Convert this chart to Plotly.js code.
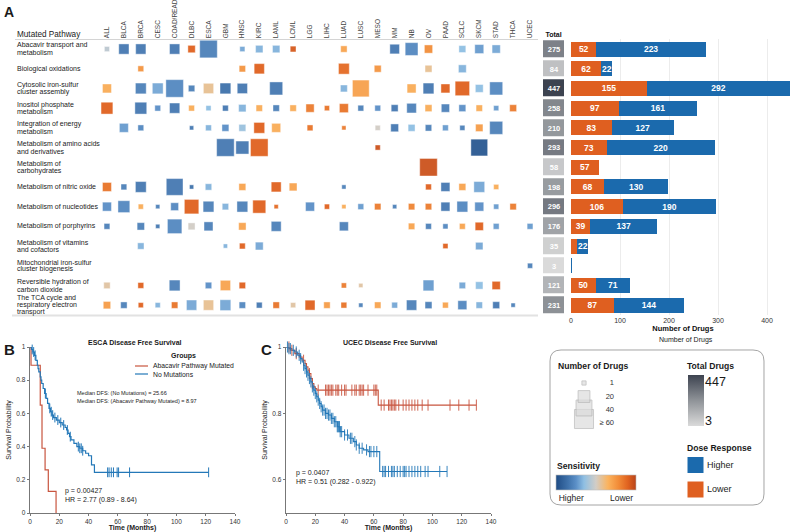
<!DOCTYPE html>
<html><head><meta charset="utf-8">
<script src="https://cdn.plot.ly/plotly-3.0.1.min.js"></script>
<style>html,body{margin:0;padding:0;background:#fff}#chart{width:797px;height:532px}</style>
</head><body><div id="chart"></div>
<script>
const W = 797, H = 532;
const FONT = '"Liberation Sans", Arial, Helvetica, sans-serif';

// ---------------- DATA ----------------
const cancers = ['ALL','BLCA','BRCA','CESC','COAD/READ','DLBC','ESCA','GBM','HNSC','KIRC','LAML','LCML','LGG','LIHC','LUAD','LUSC','MESO','MM','NB','OV','PAAD','SCLC','SKCM','STAD','THCA','UCEC'];
const pathwayLines = [
  ['Abacavir transport and','metabolism'],
  ['Biological oxidations'],
  ['Cytosolic iron-sulfur','cluster assembly'],
  ['Inositol phosphate','metabolism'],
  ['Integration of energy','metabolism'],
  ['Metabolism of amino acids','and derivatives'],
  ['Metabolism of','carbohydrates'],
  ['Metabolism of nitric oxide'],
  ['Metabolism of nucleotides'],
  ['Metabolism of porphyrins'],
  ['Metabolism of vitamins','and cofactors'],
  ['Mitochondrial iron-sulfur','cluster biogenesis'],
  ['Reversible hydration of','carbon dioxide'],
  ['The TCA cycle and','respiratory electron','transport']
];
const pathways = pathwayLines.map(l => l.join(' '));

// number of drugs per cell (0 = none), per pathway row, in cancer order
const cntAbacavir   = [2,14,14,0,14,6,50,0,2,6,6,3,0,0,4,0,0,12,24,8,0,5,10,8,0,0];
const cntBiological = [0,0,3,0,0,0,0,0,4,14,0,0,0,0,16,0,5,0,0,5,0,7,0,0,0,0];
const cntCytosolic  = [10,0,16,16,50,4,14,16,14,0,25,0,0,0,5,45,0,0,10,16,10,32,7,25,0,0];
const cntInositol   = [20,0,20,3,14,3,2,3,6,4,4,4,8,2,10,3,3,5,12,5,8,5,4,2,5,0];
const cntEnergy     = [0,10,3,0,0,1,3,5,5,16,10,0,3,0,1,0,2,7,5,4,3,2,6,25,0,0];
const cntAmino      = [0,0,0,0,0,0,0,50,25,50,0,0,0,0,0,0,2,0,0,0,0,0,45,0,0,0];
const cntCarbo      = [0,0,0,0,0,0,0,0,0,0,0,0,0,0,0,0,0,0,0,50,0,0,0,0,0,0];
const cntNitric     = [10,3,16,0,45,1,4,0,5,0,13,7,0,0,1,0,0,0,0,3,10,5,16,2,0,0];
const cntNucleo     = [10,20,2,1,7,32,16,4,16,25,1,0,10,2,1,3,4,1,4,4,10,16,10,2,4,0];
const cntPorph      = [3,0,6,1,32,5,10,0,6,0,13,0,0,0,10,0,0,0,4,3,2,3,8,3,0,3];
const cntVitamins   = [0,0,4,0,0,0,0,1,3,7,0,0,0,0,0,0,0,0,0,0,2,0,6,0,0,0];
const cntMito       = [0,0,0,0,0,0,0,0,0,0,0,0,0,0,0,0,0,0,0,0,0,0,0,0,0,2];
const cntReversible = [4,0,3,0,16,0,4,14,4,0,0,0,0,0,2,1,0,0,0,16,0,4,6,8,0,0];
const cntTCA        = [6,4,2,2,4,14,14,16,4,3,4,2,13,4,3,1,4,3,14,5,3,10,4,5,1,0];

// sensitivity per cell (-1 = higher sensitivity, +1 = lower)
const senAbacavir   = [-0.1,-0.65,-0.65,0,-0.65,0.8,-0.6,0,-0.4,-0.35,-0.35,0.85,0,0,0.4,0,0,-0.65,-0.55,0.55,0,-0.3,-0.45,-0.4,0,0];
const senBiological = [0,0,0.5,0,0,0,0,0,0.5,0.8,0,0,0,0,0.75,0,0.5,0,0,0.15,0,-0.35,0,0,0,0];
const senCytosolic  = [0.35,0,-0.6,-0.4,-0.55,-0.6,0.15,-0.7,-0.65,0,-0.65,0,0,0,-0.35,0.42,0,0,0.35,-0.65,0.8,0.8,-0.3,-0.55,0,0];
const senInositol   = [0.8,0,-0.65,-0.5,-0.65,0.35,-0.3,-0.65,-0.35,0.35,-0.6,0.35,0.65,0.7,0.7,-0.6,-0.5,-0.65,-0.6,0.35,-0.6,-0.5,0.35,-0.45,0.65,0];
const senEnergy     = [0,-0.45,-0.55,0,0,-0.65,-0.35,-0.5,-0.25,0.8,0.35,0,0.7,0,0.65,0,0,-0.65,-0.3,-0.6,-0.45,-0.6,0.45,-0.6,0,0];
const senAmino      = [0,0,0,0,0,0,0,-0.65,-0.65,0.8,0,0,0,0,0,0,0.9,0,0,0,0,0,-0.9,0,0,0];
const senCarbo      = [0,0,0,0,0,0,0,0,0,0,0,0,0,0,0,0,0,0,0,0.9,0,0,0,0,0,0];
const senNitric     = [0.7,-0.6,-0.65,0,-0.65,-0.7,-0.35,0,0.4,0,0.8,0.4,0,0,-0.6,0,0,0,0,0.8,-0.65,0.4,-0.4,0.35,0,0];
const senNucleo     = [-0.5,-0.55,0.35,-0.6,-0.55,0.8,-0.6,-0.35,-0.6,0.8,0.75,0,-0.5,0.8,0.35,-0.45,0.65,-0.6,0.6,0.65,-0.65,-0.55,-0.5,-0.45,0.65,0];
const senPorph      = [-0.6,0,-0.6,-0.65,-0.55,0,-0.6,0,0.4,0,-0.6,0,0,0,-0.6,0,0,0,0.4,-0.6,-0.55,0.4,0.8,-0.45,0,-0.45];
const senVitamins   = [0,0,-0.35,0,0,0,0,-0.35,0.8,-0.4,0,0,0,0,0,0,0,0,0,0,0.8,0,-0.4,0,0,0];
const senMito       = [0,0,0,0,0,0,0,0,0,0,0,0,0,0,0,0,0,0,0,0,0,0,0,0,0,-0.6];
const senReversible = [0.1,0,0.8,0,-0.6,0,-0.5,0.4,0.8,0,0,0,0,0,0.65,0.1,0,0,0,-0.45,0,-0.4,-0.3,0.8,0,0];
const senTCA        = [0.45,-0.6,0.8,-0.35,0.7,-0.4,0.15,-0.4,-0.55,-0.65,0.7,0.1,0.8,0.45,0.7,-0.6,0.4,-0.4,-0.6,-0.6,0.4,-0.55,-0.35,-0.65,-0.6,0];

const totals      = [275,84,447,258,210,293,58,198,296,176,35,3,121,231];
const lowerDose   = [52,62,155,97,83,73,57,68,106,39,13,0,50,87];
const higherDose  = [223,22,292,161,127,220,1,130,190,137,22,3,71,144];

// Panel B: ESCA disease free survival (Kaplan-Meier steps)
const escaNoTime  = [0,1,2,3,4,5,5.5,6,7,7.5,8,9,10,11,12,13,14,15,16,18,20,22,24,25,26,27,28,30,32,34,36,38,40,42,44,122];
const escaNoSurv  = [1,0.985,0.97,0.95,0.92,0.89,0.87,0.85,0.82,0.8,0.78,0.75,0.72,0.69,0.66,0.63,0.61,0.59,0.575,0.56,0.545,0.53,0.515,0.5,0.48,0.46,0.44,0.42,0.4,0.39,0.375,0.36,0.345,0.29,0.245,0.245];
const escaNoCensor = [1.5,2.5,3.5,10.5,13.5,14.5,15.5,17,19,21,23,25.5,27.5,33,34,35,36,53,54,55.5,57,59.5,60.5,68,122];
const escaMutTime = [0,0.7,7,8.2,10.3,12.5,17.8];
const escaMutSurv = [1,0.89,0.65,0.39,0.26,0.13,0];
const escaStats = {medNo:'25.66', medMut:'8.97', p:'0.00427', hr:'2.77 (0.89 - 8.64)'};
const groupNames = ['Abacavir Pathway Mutated', 'No Mutations'];

// Panel C: UCEC disease free survival
const ucecNoTime = [0,2,4,6,8,10,11,12,13,14,15,16,17,18,19,20,21,22,23,24,25,27,29,31,33,35,37,40,43,46,48,50,53,56,64,110];
const ucecNoSurv = [1,0.995,0.99,0.985,0.975,0.965,0.955,0.945,0.935,0.925,0.915,0.905,0.895,0.88,0.87,0.86,0.85,0.84,0.83,0.82,0.81,0.8,0.795,0.785,0.775,0.76,0.745,0.735,0.725,0.715,0.705,0.695,0.69,0.685,0.625,0.625];
const ucecNoCensor = [1,2,3,5,7,9,10,12,13,14,15,16,17,18,19,20,21,22,23,24,25,26,27,28,29,30,31,32,33,34,35,35.5,36,36.5,37,38,40,42,44,45,47,48,50,52,55,57,58,60,62,66,67,68,70,72,73,74,76,78,80,81,82,84,86,88,90,92,95,97,105,110];
const ucecMutTime = [0,3,6,9,11,13,14,15,16,17,18,19,20,21,63,130];
const ucecMutSurv = [1,0.99,0.98,0.97,0.96,0.95,0.94,0.93,0.92,0.905,0.89,0.88,0.875,0.87,0.825,0.825];
const ucecMutCensor = [2,4,7,12,16,18,22,27,28,29,30,31,32,34,35,36,38,40,41,45,47,48,50,51,52,53,56,60,61,62,65,67,70,71,72,73,74,75,77,80,82,84,86,88,90,93,97,112,118,125,130];
const ucecStats = {p:'0.0407', hr:'0.51 (0.282 - 0.922)'};

// legend values
const sizeLegendVals = [1,20,40,60];
const sizeLegendText = ['1','20','40','\u2265 60'];

// ---------------- HELPERS ----------------
const px2x = p => p / W;
const px2y = p => 1 - p / H;
const sizeOf = n => 2 + 2.2 * Math.sqrt(Math.min(n, 60));
function stepAt(ts, ss, t) { let v = ss[0]; for (let i = 0; i < ts.length; i++) { if (ts[i] <= t) v = ss[i]; else break; } return v; }

const sensScale = [[0,'#1f4c85'],[0.15,'#3f72ab'],[0.25,'#5b8fc7'],[0.35,'#8fbfe3'],[0.5,'#d2cdc6'],[0.65,'#fbb35e'],[0.78,'#f28c38'],[0.9,'#e0621f'],[1,'#b8441a']];
const grayScale = [[0,'#dadada'],[0.5,'#8f9398'],[1,'#3d4350']];
const ORANGE = '#df5f20', BLUE = '#1b6aad', KM_RED = '#c8553f', KM_BLUE = '#2478b8';

const cntRows = [cntAbacavir,cntBiological,cntCytosolic,cntInositol,cntEnergy,cntAmino,cntCarbo,cntNitric,cntNucleo,cntPorph,cntVitamins,cntMito,cntReversible,cntTCA];
const senRows = [senAbacavir,senBiological,senCytosolic,senInositol,senEnergy,senAmino,senCarbo,senNitric,senNucleo,senPorph,senVitamins,senMito,senReversible,senTCA];

const dx = [], dy = [], ds = [], dc = [];
cntRows.forEach((row, r) => row.forEach((n, c) => {
  if (n > 0) { dx.push(cancers[c]); dy.push(pathways[r]); ds.push(sizeOf(n)); dc.push(senRows[r][c]); }
}));

const traces = [];
// dot matrix
traces.push({
  type:'scatter', mode:'markers', x:dx, y:dy, xaxis:'x', yaxis:'y', showlegend:false, hoverinfo:'skip',
  marker:{symbol:'square', size:ds, color:dc, cmin:-1, cmax:1, colorscale:sensScale, opacity:0.95,
    line:{width:0.6, color:'rgba(255,255,255,0.7)'},
    showscale:true,
    colorbar:{orientation:'h', x:px2x(556), xanchor:'left', y:px2y(475), yanchor:'top', len:80, lenmode:'pixels',
      thickness:15, thicknessmode:'pixels', xpad:0, ypad:0, outlinewidth:0.6, outlinecolor:'#bbb',
      tickvals:[-0.62,0.64], ticktext:['Higher','Lower'], ticks:'', tickfont:{family:FONT, size:8.5, color:'#222'}}}
});
// totals column
traces.push({
  type:'heatmap', x:['Total'], y:pathways, z:totals.map(v => [v]), xaxis:'x2', yaxis:'y',
  zmin:Math.min(...totals), zmax:Math.max(...totals), colorscale:grayScale, ygap:3, xgap:0,
  texttemplate:'<b>%{z}</b>', textfont:{family:FONT, size:7.5, color:'#fff'}, hoverinfo:'skip',
  colorbar:{x:px2x(687.5), xanchor:'left', y:px2y(400.5), yanchor:'middle', len:51, lenmode:'pixels',
    thickness:15.5, thicknessmode:'pixels', xpad:0, ypad:0, outlinewidth:0, showticklabels:false, ticks:''}
});
// stacked bars
const barText = v => v >= 20 ? String(v) : '';
const barCommon = {type:'bar', orientation:'h', y:pathways, xaxis:'x3', yaxis:'y', showlegend:false,
  texttemplate:'<b>%{text}</b>', textposition:'inside', textangle:0, insidetextanchor:'middle', constraintext:'none',
  textfont:{family:FONT, size:8.5, color:'#fff'}, hoverinfo:'skip', cliponaxis:false};
traces.push(Object.assign({}, barCommon, {x:lowerDose, name:'Lower', marker:{color:ORANGE}, text:lowerDose.map(barText)}));
traces.push(Object.assign({}, barCommon, {x:higherDose, name:'Higher', marker:{color:BLUE}, text:higherDose.map(barText)}));

// KM panel B
traces.push({type:'scatter', mode:'lines', x:escaMutTime, y:escaMutSurv, xaxis:'x4', yaxis:'y4', name:groupNames[0], showlegend:false,
  line:{shape:'hv', color:KM_RED, width:1.2}, cliponaxis:false, hoverinfo:'skip'});
traces.push({type:'scatter', mode:'lines', x:escaNoTime, y:escaNoSurv, xaxis:'x4', yaxis:'y4', name:groupNames[1], showlegend:false,
  line:{shape:'hv', color:KM_BLUE, width:1.2}, cliponaxis:false, hoverinfo:'skip'});
traces.push({type:'scatter', mode:'markers', x:escaNoCensor, y:escaNoCensor.map(t => stepAt(escaNoTime, escaNoSurv, t)),
  xaxis:'x4', yaxis:'y4', showlegend:false, cliponaxis:false, hoverinfo:'skip',
  marker:{symbol:'line-ns-open', size:7, color:KM_BLUE, line:{width:1, color:KM_BLUE}}});
// KM panel C
traces.push({type:'scatter', mode:'lines', x:ucecMutTime, y:ucecMutSurv, xaxis:'x5', yaxis:'y5', showlegend:false,
  line:{shape:'hv', color:KM_RED, width:1.1}, cliponaxis:false, hoverinfo:'skip'});
traces.push({type:'scatter', mode:'lines', x:ucecNoTime, y:ucecNoSurv, xaxis:'x5', yaxis:'y5', showlegend:false,
  line:{shape:'hv', color:KM_BLUE, width:1.1}, cliponaxis:false, hoverinfo:'skip'});
traces.push({type:'scatter', mode:'markers', x:ucecMutCensor, y:ucecMutCensor.map(t => stepAt(ucecMutTime, ucecMutSurv, t)),
  xaxis:'x5', yaxis:'y5', showlegend:false, cliponaxis:false, hoverinfo:'skip',
  marker:{symbol:'line-ns-open', size:8, color:KM_RED, line:{width:0.9, color:KM_RED}}});
traces.push({type:'scatter', mode:'markers', x:ucecNoCensor, y:ucecNoCensor.map(t => stepAt(ucecNoTime, ucecNoSurv, t)),
  xaxis:'x5', yaxis:'y5', showlegend:false, cliponaxis:false, hoverinfo:'skip',
  marker:{symbol:'line-ns-open', size:8, color:KM_BLUE, line:{width:0.9, color:KM_BLUE}}});
// size legend (drawn largest first so smaller ones sit on top)
const sizeLegendY = [383, 396.5, 408, 419];
const order = [3,2,1,0];
traces.push({type:'scatter', mode:'markers', xaxis:'x6', yaxis:'y6', showlegend:false, hoverinfo:'skip', cliponaxis:false,
  x:order.map(() => 584), y:order.map(i => sizeLegendY[i]),
  marker:{symbol:'square', size:order.map(i => sizeOf(sizeLegendVals[i])), color:'#dcdcdc', line:{width:0.8, color:'#a8a8a8'}}});
traces.push({type:'scatter', mode:'text', xaxis:'x6', yaxis:'y6', showlegend:false, hoverinfo:'skip', cliponaxis:false,
  x:sizeLegendVals.map(() => 614), y:[383,397,410,423], text:sizeLegendText, textposition:'middle left',
  textfont:{family:FONT, size:7.5, color:'#333'}});
// dose response legend
traces.push({type:'scatter', mode:'markers', xaxis:'x6', yaxis:'y6', showlegend:false, hoverinfo:'skip', cliponaxis:false,
  x:[695.5,695.5], y:[465,489.5], marker:{symbol:'square', size:16, color:[BLUE, ORANGE]}});
traces.push({type:'scatter', mode:'text', xaxis:'x6', yaxis:'y6', showlegend:false, hoverinfo:'skip', cliponaxis:false,
  x:[707,707], y:[466,490], text:['Higher','Lower'], textposition:'middle right',
  textfont:{family:FONT, size:9, color:'#222'}});

// ---------------- ANNOTATIONS ----------------
const annotations = [];
function ann(text, xp, yp, size, opts) {
  annotations.push(Object.assign({text:text, x:px2x(xp), y:px2y(yp), xref:'paper', yref:'paper', showarrow:false,
    xanchor:'left', yanchor:'middle', font:{family:FONT, size:size, color:'#1a1a1a'}}, opts || {}));
}
pathwayLines.forEach((lines, r) => lines.forEach((ln, k) => {
  annotations.push({text:ln, xref:'paper', x:px2x(15), yref:'y', y:r, yshift:((lines.length - 1) / 2 - k) * 7.2,
    xanchor:'left', yanchor:'middle', showarrow:false, font:{family:FONT, size:7, color:'#1a1a1a'}});
}));
ann('<b>A</b>', 2, 12, 14);
ann('Mutated Pathway', 15, 34, 8.2);
ann('Number of Drugs', 686, 340, 7, {xanchor:'center'});
ann('<b>B</b>', 2, 349, 15);
ann('<b>C</b>', 259, 349, 15);
ann('<b>ESCA Disease Free Survival</b>', 135, 342, 7, {xanchor:'center'});
ann('<b>UCEC Disease Free Survival</b>', 390, 342, 7, {xanchor:'center'});
// panel B group legend
ann('<b>Groups</b>', 183, 356, 7, {xanchor:'center'});
ann(groupNames[0], 151, 366, 6.8);
ann(groupNames[1], 151, 374, 6.8);
ann('Median DFS: (No Mutations) = ' + escaStats.medNo, 75, 393, 5.5);
ann('Median DFS: (Abacavir Pathway Mutated) = ' + escaStats.medMut, 75, 401, 5.5);
ann('p = ' + escaStats.p, 63, 491, 7);
ann('HR = ' + escaStats.hr, 63, 500, 7);
ann('p = ' + ucecStats.p, 294, 473, 7);
ann('HR = ' + ucecStats.hr, 294, 482, 7);
ann('<b>Number of Drugs</b>', 556, 366, 8.6);
ann('<b>Total Drugs</b>', 685, 366, 8.6);
ann('<b>Dose Response</b>', 685, 448, 8.6);
ann('<b>Sensitivity</b>', 555, 466, 8.6);
ann(String(Math.max(...totals)), 703, 382, 12.5);
ann(String(Math.min(...totals)), 703, 421, 12.5);

// ---------------- SHAPES ----------------
function rrect(x0, y0, x1, y1, r) {
  const X = p => px2x(p).toFixed(5), Y = p => px2y(p).toFixed(5);
  return 'M' + X(x0 + r) + ',' + Y(y0) + ' L' + X(x1 - r) + ',' + Y(y0) + ' Q' + X(x1) + ',' + Y(y0) + ' ' + X(x1) + ',' + Y(y0 + r) +
    ' L' + X(x1) + ',' + Y(y1 - r) + ' Q' + X(x1) + ',' + Y(y1) + ' ' + X(x1 - r) + ',' + Y(y1) +
    ' L' + X(x0 + r) + ',' + Y(y1) + ' Q' + X(x0) + ',' + Y(y1) + ' ' + X(x0) + ',' + Y(y1 - r) +
    ' L' + X(x0) + ',' + Y(y0 + r) + ' Q' + X(x0) + ',' + Y(y0) + ' ' + X(x0 + r) + ',' + Y(y0) + ' Z';
}
const shapes = [
  {type:'line', xref:'paper', yref:'paper', x0:px2x(15), x1:px2x(538), y0:px2y(39.5), y1:px2y(39.5), line:{color:'#d4d4d4', width:1}},
  {type:'line', xref:'paper', yref:'paper', x0:px2x(12), x1:px2x(538), y0:px2y(315.5), y1:px2y(315.5), line:{color:'#e2e2e2', width:2}},
  {type:'path', xref:'paper', yref:'paper', path:rrect(550, 350, 764, 505, 11), line:{color:'#9a9a9a', width:0.9}, fillcolor:'rgba(0,0,0,0)'},
  // group legend line samples
  {type:'line', xref:'paper', yref:'paper', x0:px2x(135), x1:px2x(148), y0:px2y(366), y1:px2y(366), line:{color:KM_RED, width:1.2}},
  {type:'line', xref:'paper', yref:'paper', x0:px2x(135), x1:px2x(148), y0:px2y(374), y1:px2y(374), line:{color:KM_BLUE, width:1.2}}
];

// ---------------- LAYOUT ----------------
const kmAxisX = {range:[0,140], dtick:20, showline:true, linecolor:'#555', linewidth:0.8, ticks:'outside', ticklen:2.5,
  tickcolor:'#555', tickwidth:0.8, tickfont:{family:FONT, size:6.5, color:'#333'}, showgrid:false, zeroline:false,
  title:{text:'<b>Time (Months)</b>', font:{family:FONT, size:7, color:'#222'}, standoff:2}};
const kmAxisY = {dtick:0.2, tick0:0, showline:true, linecolor:'#555', linewidth:0.8, ticks:'outside', ticklen:2.5,
  tickcolor:'#555', tickwidth:0.8, tickfont:{family:FONT, size:6.5, color:'#333'}, showgrid:false, zeroline:false,
  title:{text:'Survival Probability', font:{family:FONT, size:7, color:'#222'}, standoff:3}};

const layout = {
  width:W, height:H, margin:{l:0, r:0, t:0, b:0}, paper_bgcolor:'#fff', plot_bgcolor:'rgba(0,0,0,0)',
  font:{family:FONT, color:'#222'},
  barmode:'stack', bargap:0.24, showlegend:false,
  xaxis:{domain:[px2x(98.5), px2x(538.5)], anchor:'y', side:'top', type:'category', categoryorder:'array',
    categoryarray:cancers, range:[-0.5,25.5], tickangle:-90, tickfont:{family:FONT, size:6.5, color:'#444'},
    ticks:'', showgrid:false, zeroline:false, showline:false},
  yaxis:{domain:[px2y(315), px2y(39.2)], anchor:'x', type:'category', categoryorder:'array', categoryarray:pathways,
    range:[13.5,-0.5], showticklabels:false, showgrid:false, zeroline:false, ticks:'', showline:false},
  xaxis2:{domain:[px2x(543), px2x(564)], anchor:'y', side:'top', type:'category', tickvals:['Total'],
    ticktext:['<b>Total</b>'], tickfont:{family:FONT, size:7, color:'#111'}, ticks:'', showgrid:false, zeroline:false},
  xaxis3:{domain:[px2x(571), px2x(795)], anchor:'y', range:[0,457], tickvals:[0,100,200,300,400], showgrid:true,
    gridcolor:'#ececec', zeroline:false, ticks:'', tickfont:{family:FONT, size:7, color:'#333'},
    title:{text:'<b>Number of Drugs</b>', font:{family:FONT, size:7.5, color:'#111'}, standoff:1}},
  xaxis4:Object.assign({}, kmAxisX, {domain:[px2x(30), px2x(235)], anchor:'y4'}),
  yaxis4:Object.assign({}, kmAxisY, {domain:[px2y(513), px2y(347)], anchor:'x4', range:[0,1]}),
  xaxis5:Object.assign({}, kmAxisX, {domain:[px2x(286), px2x(491)], anchor:'y5'}),
  yaxis5:Object.assign({}, kmAxisY, {domain:[px2y(513), px2y(347)], anchor:'x5', range:[0.5,1]}),
  xaxis6:{domain:[px2x(550), px2x(765)], anchor:'y6', range:[550,765], visible:false},
  yaxis6:{domain:[px2y(505), px2y(352)], anchor:'x6', range:[505,352], visible:false},
  annotations:annotations, shapes:shapes
};

Plotly.newPlot('chart', traces, layout, {displayModeBar:false, staticPlot:true});
</script>
</body></html>
